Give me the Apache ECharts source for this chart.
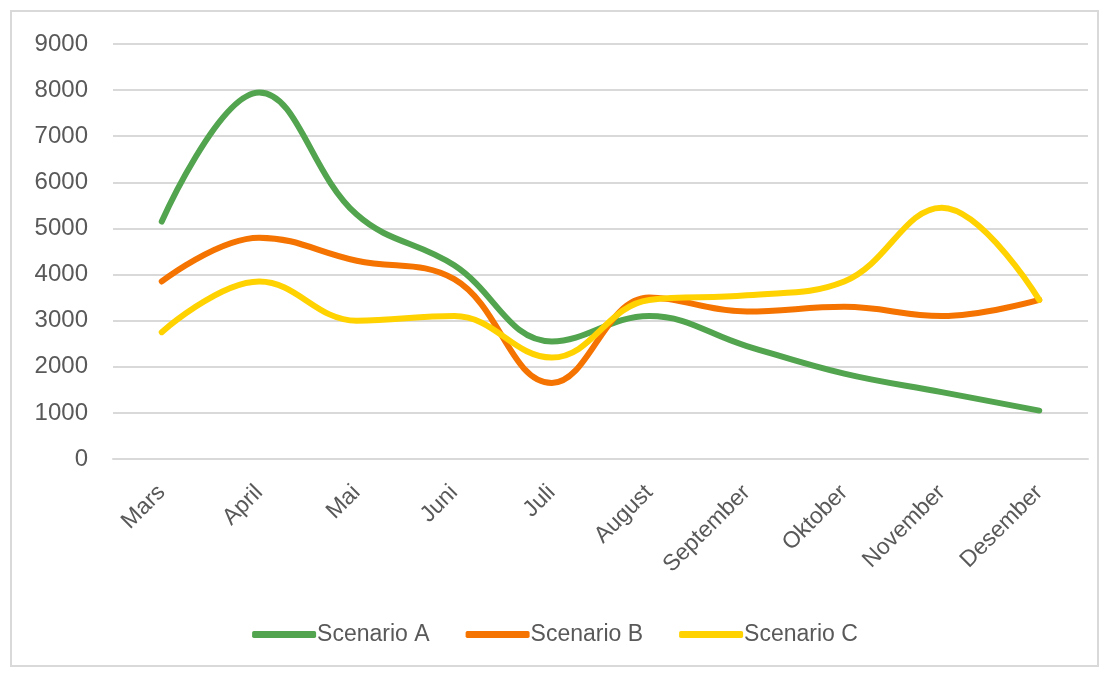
<!DOCTYPE html>
<html>
<head>
<meta charset="utf-8">
<script src="https://cdn.jsdelivr.net/npm/echarts@6/dist/echarts.min.js"></script>
<style>
  html, body { margin: 0; padding: 0; background: #fff; }
  #frame {
    position: absolute; left: 10px; top: 10px;
    width: 1089px; height: 657px;
    border: 2px solid #d9d9d9; box-sizing: border-box;
  }
  #chart { width: 1110px; height: 673px; }
</style>
</head>
<body>
<div id="frame"></div>
<div id="chart"></div>
<script>
const months = ['Mars', 'April', 'Mai', 'Juni', 'Juli', 'August', 'September', 'Oktober', 'November', 'Desember']
const scenarioA = [5150, 7950, 5300, 4200, 2550, 3100, 2450, 1850, 1450, 1050]
const scenarioB = [3850, 4800, 4300, 3900, 1650, 3500, 3200, 3300, 3100, 3450]
const scenarioC = [2750, 3850, 3000, 3100, 2200, 3450, 3550, 3850, 5450, 3450]
const seriesNames = ['Scenario A', 'Scenario B', 'Scenario C']
const colors = ['#52a44f', '#f57300', '#ffd200']

const font = 'Liberation Sans'
const chart = echarts.init(document.getElementById('chart'))

function line(name, data, color) {
  return {
    name,
    type: 'line',
    data,
    smooth: 0.4,
    symbol: 'none',
    lineStyle: { width: 6, color, cap: 'round' },
    itemStyle: { color },
  }
}

chart.setOption({
  animation: false,
  textStyle: { fontFamily: font },
  grid: { left: 113, right: 22, top: 44, bottom: 214 },
  legend: {
    bottom: 22,
    left: 'center',
    itemWidth: 64,
    itemHeight: 7,
    itemGap: 36,
    icon: 'roundRect',
    textStyle: { fontSize: 23, color: '#595959', fontFamily: font, padding: [0, 0, 0, -4] },
    data: seriesNames,
  },
  xAxis: {
    type: 'category',
    data: months,
    axisLine: { lineStyle: { color: '#d9d9d9', width: 2 } },
    axisTick: { show: false },
    axisLabel: { rotate: 45, fontSize: 23, color: '#595959', margin: 30, interval: 0 },
  },
  yAxis: {
    type: 'value',
    min: 0,
    max: 9000,
    interval: 1000,
    axisLine: { show: false },
    axisTick: { show: false },
    axisLabel: { fontSize: 24, color: '#595959', margin: 25, formatter: (v) => String(v) },
    splitLine: { lineStyle: { color: '#d9d9d9', width: 2 } },
  },
  series: [
    line(seriesNames[0], scenarioA, colors[0]),
    line(seriesNames[1], scenarioB, colors[1]),
    line(seriesNames[2], scenarioC, colors[2]),
  ],
})
</script>
</body>
</html>
